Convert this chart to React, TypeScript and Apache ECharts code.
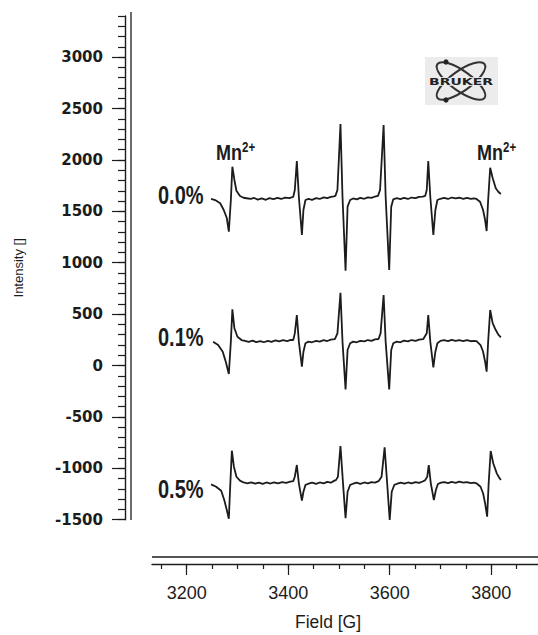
import React, { useEffect, useRef } from "react";
import * as echarts from "echarts";

// Field axis (G)
const FIELD_TICKS = [3200, 3400, 3600, 3800];
const FIELD_MINOR = [3150, 3200, 3250, 3300, 3350, 3400, 3450, 3500, 3550, 3600, 3650, 3700, 3750, 3800, 3850];
// Intensity axis
const INTENSITY_TICKS = [-1500, -1000, -500, 0, 500, 1000, 1500, 2000, 2500, 3000];
const INTENSITY_MINOR = [
  -1500, -1400, -1300, -1200, -1100, -1000, -900, -800, -700, -600, -500, -400, -300, -200, -100,
  0, 100, 200, 300, 400, 500, 600, 700, 800, 900, 1000, 1100, 1200, 1300, 1400, 1500, 1600, 1700,
  1800, 1900, 2000, 2100, 2200, 2300, 2400, 2500, 2600, 2700, 2800, 2900, 3000, 3100, 3200, 3300, 3400,
];

const SAMPLE_LABELS = ["0.0%", "0.1%", "0.5%"];

// Spectrum 0.0 %  [field G, intensity]
const TRACE_00 = [
  [3248, 1620], [3256, 1610], [3266, 1578], [3273, 1513], [3279, 1435], [3283, 1302], [3287, 1610],
  [3290, 1934], [3294, 1805], [3298, 1700], [3305, 1649], [3312, 1632], [3318, 1627], [3326, 1620],
  [3333, 1630], [3340, 1614], [3348, 1626], [3356, 1612], [3363, 1628], [3371, 1618], [3379, 1630],
  [3386, 1620], [3394, 1634], [3402, 1628], [3410, 1640], [3413, 1707], [3417, 1989], [3421, 1642],
  [3427, 1270], [3430, 1513], [3434, 1610], [3440, 1620], [3447, 1612], [3455, 1628], [3462, 1620],
  [3470, 1636], [3477, 1628], [3484, 1640], [3490, 1645], [3493, 1650], [3497, 1707], [3503, 2349],
  [3507, 1642], [3513, 922], [3517, 1545], [3522, 1610], [3528, 1625], [3535, 1616], [3542, 1630],
  [3550, 1622], [3557, 1636], [3564, 1630], [3571, 1644], [3577, 1650], [3581, 1707], [3588, 2339],
  [3592, 1642], [3599, 929], [3603, 1545], [3607, 1617], [3614, 1628], [3621, 1618], [3628, 1630],
  [3636, 1620], [3643, 1634], [3651, 1628], [3658, 1640], [3665, 1642], [3670, 1650], [3673, 1707],
  [3676, 1989], [3680, 1642], [3686, 1270], [3690, 1513], [3694, 1610], [3700, 1622], [3707, 1630],
  [3715, 1620], [3722, 1634], [3730, 1625], [3737, 1632], [3745, 1622], [3752, 1630], [3760, 1620],
  [3766, 1625], [3771, 1620], [3778, 1593], [3784, 1513], [3788, 1415], [3791, 1308], [3794, 1610],
  [3798, 1924], [3803, 1821], [3809, 1724], [3814, 1690], [3819, 1668],
];

// Spectrum 0.1 %
const TRACE_01 = [
  [3252, 232], [3262, 199], [3271, 134], [3277, 37], [3283, -83], [3287, 232], [3290, 547], [3294, 362],
  [3300, 280], [3308, 248], [3315, 240], [3322, 230], [3330, 242], [3337, 228], [3345, 238], [3352, 226],
  [3360, 240], [3367, 230], [3375, 244], [3382, 234], [3390, 246], [3398, 238], [3405, 250], [3410, 248],
  [3413, 313], [3417, 491], [3421, 232], [3427, -12], [3430, 134], [3434, 216], [3440, 232], [3447, 226],
  [3455, 240], [3462, 232], [3470, 246], [3477, 238], [3484, 252], [3492, 256], [3497, 313], [3503, 708],
  [3507, 232], [3513, -232], [3517, 151], [3522, 216], [3528, 232], [3535, 226], [3542, 240], [3550, 234],
  [3557, 248], [3564, 240], [3571, 254], [3578, 258], [3582, 313], [3588, 686], [3592, 232], [3599, -232],
  [3603, 151], [3607, 216], [3614, 232], [3621, 226], [3628, 242], [3636, 234], [3643, 248], [3651, 240],
  [3658, 252], [3666, 256], [3673, 313], [3676, 491], [3680, 232], [3686, -18], [3690, 134], [3694, 216],
  [3700, 240], [3707, 246], [3715, 238], [3722, 250], [3730, 240], [3737, 248], [3745, 238], [3752, 246],
  [3760, 236], [3766, 240], [3771, 238], [3779, 199], [3784, 134], [3788, 37], [3791, -60], [3794, 232],
  [3798, 540], [3803, 410], [3809, 345], [3814, 300], [3819, 274],
];

// Spectrum 0.5 %
const TRACE_05 = [
  [3248, -1156], [3258, -1179], [3268, -1218], [3274, -1308], [3279, -1406], [3283, -1490], [3286, -1146],
  [3289, -829], [3293, -984], [3298, -1082], [3305, -1120], [3312, -1138], [3320, -1146], [3327, -1136],
  [3335, -1150], [3342, -1140], [3350, -1152], [3357, -1138], [3365, -1148], [3372, -1136], [3380, -1146],
  [3388, -1134], [3396, -1142], [3404, -1130], [3410, -1125], [3413, -1082], [3417, -968], [3421, -1146],
  [3427, -1315], [3430, -1228], [3434, -1162], [3440, -1150], [3447, -1140], [3455, -1152], [3462, -1138],
  [3470, -1146], [3477, -1132], [3484, -1140], [3491, -1120], [3494, -1115], [3498, -1082], [3503, -783],
  [3508, -1146], [3513, -1486], [3517, -1228], [3522, -1162], [3528, -1150], [3535, -1140], [3542, -1152],
  [3550, -1138], [3557, -1146], [3564, -1134], [3571, -1140], [3578, -1125], [3584, -1082], [3590, -796],
  [3595, -1146], [3600, -1503], [3604, -1228], [3609, -1162], [3615, -1150], [3622, -1140], [3629, -1150],
  [3636, -1138], [3643, -1146], [3651, -1134], [3658, -1142], [3665, -1128], [3670, -1115], [3674, -1082],
  [3677, -968], [3681, -1146], [3687, -1308], [3691, -1211], [3695, -1153], [3701, -1140], [3708, -1134],
  [3715, -1144], [3722, -1132], [3730, -1142], [3737, -1130], [3745, -1140], [3752, -1134], [3760, -1144],
  [3766, -1140], [3771, -1146], [3779, -1179], [3784, -1243], [3788, -1340], [3792, -1471], [3795, -1146],
  [3799, -832], [3804, -951], [3811, -1049], [3815, -1085], [3819, -1114],
];

const TRACES = [TRACE_00, TRACE_01, TRACE_05];

const SANS = "'Liberation Sans', Arial, Helvetica, sans-serif";
const INK = "#1c1c1c";

export default function App() {
  const ref = useRef<HTMLDivElement>(null);

  useEffect(() => {
    if (!ref.current) return;
    const chart = echarts.init(ref.current, null, { renderer: "svg" });
    const pxPerG = 101.5 / 200;
    const x0 = 125;
    const x1 = 152;
    const xTick = 186.7;
    const X_MAX = 3200 + (538 - xTick) / pxPerG;
    const X0_MIN = 3200 - (xTick - x0) / pxPerG;
    const X1_MIN = 3200 - (xTick - x1) / pxPerG;

    const tickStyle = { color: INK, width: 1.2 };
    const plain = (v: number) => String(Math.round(v));

    chart.setOption({
      animation: false,
      backgroundColor: "#ffffff",
      grid: [
        { left: x0, right: 0, top: 16, bottom: 115.3 },
        { left: x1, right: 0, top: 400, bottom: 71 },
      ],
      xAxis: [
        { gridIndex: 0, type: "value", min: X0_MIN, max: X_MAX, show: false },
        {
          gridIndex: 1,
          type: "value",
          position: "bottom",
          min: X1_MIN,
          max: X_MAX,
          axisLine: { show: true, lineStyle: { color: INK, width: 1.4 } },
          axisTick: { show: true, customValues: FIELD_TICKS, length: 11, lineStyle: tickStyle },
          axisLabel: {
            customValues: FIELD_TICKS,
            formatter: plain,
            fontSize: 18,
            fontFamily: SANS,
            color: INK,
            margin: 20,
          },
          splitLine: { show: false },
        },
        {
          gridIndex: 1,
          type: "value",
          position: "bottom",
          min: X1_MIN,
          max: X_MAX,
          axisLine: { show: false },
          axisTick: { show: true, customValues: FIELD_MINOR, length: 5, lineStyle: tickStyle },
          axisLabel: { show: false },
          splitLine: { show: false },
        },
      ],
      yAxis: [
        {
          gridIndex: 0,
          type: "value",
          position: "left",
          min: -1500,
          max: 3400,
          axisLine: { show: true, lineStyle: { color: INK, width: 1.4 } },
          axisTick: { show: true, customValues: INTENSITY_TICKS, length: 13, lineStyle: tickStyle },
          axisLabel: {
            customValues: INTENSITY_TICKS,
            formatter: plain,
            fontFamily: "'DejaVu Sans', sans-serif",
            fontWeight: "bold",
            fontSize: 15,
            color: INK,
            margin: 22,
          },
          splitLine: { show: false },
          name: "Intensity []",
          nameLocation: "middle",
          nameGap: 100,
          nameTextStyle: { fontFamily: SANS, fontSize: 13, color: INK },
        },
        {
          gridIndex: 0,
          type: "value",
          position: "left",
          min: -1500,
          max: 3400,
          axisLine: { show: false },
          axisTick: { show: true, customValues: INTENSITY_MINOR, length: 7, lineStyle: tickStyle },
          axisLabel: { show: false },
          splitLine: { show: false },
        },
        { gridIndex: 1, type: "value", show: false, min: 0, max: 1 },
      ],
      series: TRACES.map((data, i) => ({
        type: "line",
        name: SAMPLE_LABELS[i],
        xAxisIndex: 0,
        yAxisIndex: 0,
        data,
        showSymbol: false,
        symbol: "none",
        smooth: false,
        lineStyle: { color: INK, width: 1.8 },
        z: 3,
      })),
      graphic: [
        // double axis lines (scan look)
        { type: "line", shape: { x1: 131, y1: 12, x2: 131, y2: 520 }, style: { stroke: INK, lineWidth: 1.3 } },
        { type: "line", shape: { x1: 152, y1: 557, x2: 538, y2: 557 }, style: { stroke: INK, lineWidth: 1.4 } },
        {
          type: "text",
          x: 328,
          y: 622,
          style: {
            text: "Field [G]",
            fontSize: 17.5,
            fontFamily: SANS,
            fill: INK,
            align: "center",
            verticalAlign: "middle",
          },
        },
        ...SAMPLE_LABELS.map((t, i) => ({
          type: "text",
          x: 158,
          y: [196, 338, 490][i],
          scaleX: 0.8,
          style: {
            text: t,
            fontSize: 25,
            fontWeight: "bold",
            fontFamily: SANS,
            fill: INK,
            align: "left",
            verticalAlign: "middle",
          },
        })),
        ...[216, 477].map((x) => ({
          type: "text",
          x,
          y: 152,
          scaleX: 0.82,
          style: {
            text: "{m|Mn}{s|2+}",
            fill: INK,
            align: "left",
            verticalAlign: "middle",
            rich: {
              m: { fontSize: 22, fontWeight: "bold", fontFamily: SANS, fill: INK, lineHeight: 24 },
              s: { fontSize: 14, fontWeight: "bold", fontFamily: SANS, fill: INK, verticalAlign: "top", lineHeight: 12 },
            },
          },
        })),
        // Bruker logo
        {
          type: "group",
          children: [
            { type: "rect", shape: { x: 425, y: 57, width: 73, height: 48 }, style: { fill: "#ececec" } },
            {
              type: "ellipse",
              x: 461,
              y: 81,
              rotation: 0.62,
              shape: { cx: 0, cy: 0, rx: 29, ry: 10 },
              style: { fill: "none", stroke: "#333", lineWidth: 2 },
            },
            {
              type: "ellipse",
              x: 461,
              y: 81,
              rotation: -0.62,
              shape: { cx: 0, cy: 0, rx: 29, ry: 10 },
              style: { fill: "none", stroke: "#333", lineWidth: 2 },
            },
            { type: "circle", shape: { cx: 446, cy: 62, r: 2.6 }, style: { fill: "#222" } },
            { type: "circle", shape: { cx: 446, cy: 100, r: 2.6 }, style: { fill: "#222" } },
            {
              type: "text",
              x: 461,
              y: 82,
              scaleX: 1.75,
              style: {
                text: "BRUKER",
                fontSize: 8,
                fontWeight: "bold",
                fontFamily: "'DejaVu Sans', sans-serif",
                fill: "#222",
                stroke: "#ececec",
                lineWidth: 1.5,
                align: "center",
                verticalAlign: "middle",
              },
            },
          ],
        },
      ],
    });

    return () => chart.dispose();
  }, []);

  return (
    <div
      ref={ref}
      style={{ position: "absolute", left: 0, top: 0, width: 538, height: 635, background: "#fff" }}
    />
  );
}
